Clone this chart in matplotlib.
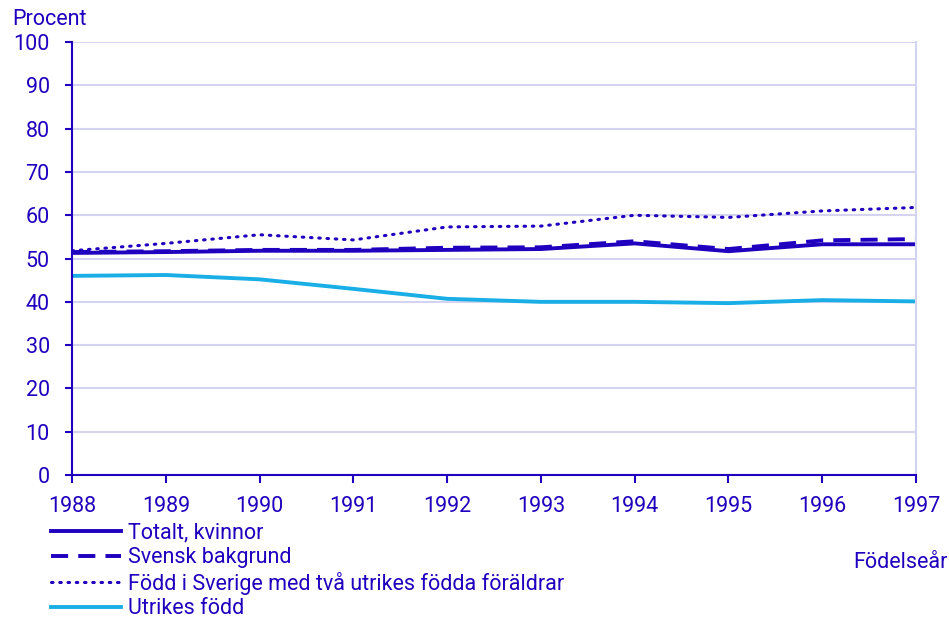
import matplotlib.pyplot as plt

plt.rcParams['font.family'] = ['Roboto', 'DejaVu Sans']

# Data
years = [1988, 1989, 1990, 1991, 1992, 1993, 1994, 1995, 1996, 1997]
totalt = [51.3, 51.5, 51.8, 51.8, 52.0, 52.2, 53.5, 51.7, 53.3, 53.3]
svensk = [51.5, 51.7, 52.0, 52.0, 52.5, 52.6, 54.0, 52.2, 54.2, 54.5]
fodd_sverige = [51.8, 53.5, 55.5, 54.3, 57.3, 57.5, 60.0, 59.5, 61.0, 61.8]
utrikes = [46.0, 46.2, 45.2, 43.0, 40.7, 40.0, 40.0, 39.7, 40.4, 40.1]

dark = '#1e00be'
light = '#1aaee6'
grid = '#d4d4f0'
fs = 15.5

fig = plt.figure(figsize=(9.49, 6.19), dpi=100)
ax = fig.add_axes([0.0759, 0.2326, 0.8893, 0.6994])

ax.plot(years, totalt, color=dark, lw=2.8, label='Totalt, kvinnor')
ax.plot(years, svensk, color=dark, lw=2.8, dashes=(4.4, 2.6), label='Svensk bakgrund')
ax.plot(years, fodd_sverige, color=dark, lw=2.2, dashes=(0.5, 2.2),
        dash_capstyle='round', label='Född i Sverige med två utrikes födda föräldrar')
ax.plot(years, utrikes, color=light, lw=2.8, label='Utrikes född')

ax.set_xlim(1988, 1997)
ax.set_ylim(0, 100)
ax.set_xticks(years)
ax.set_yticks(range(0, 101, 10))
ax.yaxis.grid(True, color=grid, lw=1.5)
ax.set_axisbelow(True)

ax.spines['top'].set_visible(False)
ax.spines['right'].set_color(grid)
ax.spines['right'].set_linewidth(1.5)
ax.spines['left'].set_color(dark)
ax.spines['bottom'].set_color(dark)
ax.spines['left'].set_linewidth(1.5)
ax.spines['bottom'].set_linewidth(1.5)
ax.tick_params(axis='both', colors=dark, labelsize=fs, width=1.5)
ax.tick_params(axis='x', length=6, pad=9)
ax.tick_params(axis='y', length=5, pad=11)

fig.text(0.013, 0.969, 'Procent', color=dark, fontsize=fs, va='center', ha='left')
fig.text(0.999, 0.0905, 'Födelseår', color=dark, fontsize=fs, va='center', ha='right')

fig.legend(loc='upper left', bbox_to_anchor=(0.054, 0.156), frameon=False,
           fontsize=fs, labelcolor=dark, handlelength=3.25, handletextpad=0.3,
           labelspacing=0.17, borderpad=0, borderaxespad=0)

fig.savefig('out.png', dpi=100)
